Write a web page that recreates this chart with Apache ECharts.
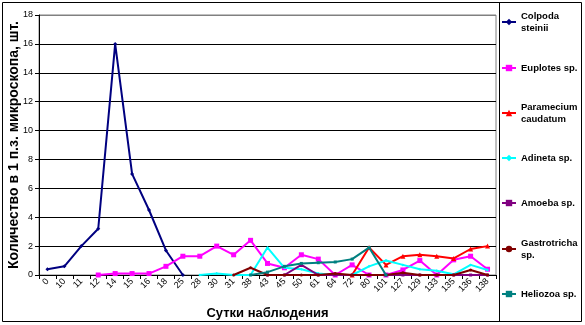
<!DOCTYPE html>
<html>
<head>
<meta charset="utf-8">
<script src="https://cdn.jsdelivr.net/npm/echarts@6/dist/echarts.min.js"></script>
<style>
html,body{margin:0;padding:0;background:#fff;}
#chart{width:585px;height:325px;}
</style>
</head>
<body>
<div id="chart"></div>
<script>
const categories = ['0','10','11','12','14','15','16','18','25','28','30','31','38','43','45','50','61','64','72','80','101','127','129','133','135','136','138'];
const yTicks = { min: 0, max: 18, interval: 2 };
const N = null;
const colpoda      = [0.4,0.6,2.0,3.2,16,7,4.5,1.7,0,N,N,N,N,N,N,N,N,N,N,N,N,N,N,N,N,N,N];
const euplotes     = [N,N,N,0,0.1,0.1,0.1,0.6,1.3,1.3,2.0,1.4,2.4,0.8,0.5,1.4,1.1,0,0.7,0,0,0.35,1.0,0,1.05,1.3,0.4];
const paramecium   = [N,N,N,N,N,N,N,N,N,N,N,N,N,N,N,N,N,N,0,1.9,0.7,1.3,1.4,1.3,1.15,1.8,2.0];
const adineta      = [N,N,N,N,N,N,N,N,N,0,0.1,0,0,1.9,0.5,0.4,0.1,0,0,0.6,1.0,0.7,0.4,0.3,0.05,0.7,0.35];
const amoeba       = [N,N,N,N,N,N,N,N,N,N,N,N,N,0,0,0.7,0,0,0,0,0,0,0,0,0,0,0];
const gastrotricha = [N,N,N,N,N,N,N,N,N,N,N,0,0.5,0,0,0,0,0.1,0,0,0,0.15,0,0,0,0.35,0];
const heliozoa     = [N,N,N,N,N,N,N,N,N,N,N,N,0,0.2,0.6,0.8,0.85,0.9,1.1,1.9,0,N,N,N,N,N,N];

const seriesNames = ['Colpoda steinii','Euplotes sp.','Paramecium caudatum','Adineta sp.','Amoeba sp.','Gastrotricha sp.','Heliozoa sp.'];
const legendLabels = ['Colpoda\nsteinii','Euplotes sp.','Paramecium\ncaudatum','Adineta sp.','Amoeba sp.','Gastrotricha\nsp.','Heliozoa sp.'];
const seriesData = [colpoda, euplotes, paramecium, adineta, amoeba, gastrotricha, heliozoa];
const colors = ['#000080','#FF00FF','#FF0000','#00FFFF','#800080','#800000','#008080'];
const symbols = ['diamond','rect','triangle','diamond','rect','circle','rect'];
const symbolSizes = [4,5,5,3,3,3,3];
const legendFirstLine = [21,67,112,157,202,248,293];

const FONT = '"Liberation Sans", Arial, sans-serif';

const chart = echarts.init(document.getElementById('chart'), null, {renderer:'canvas'});

const legends = seriesNames.map((name, i) => {
  const twoLine = legendLabels[i].indexOf('\n') >= 0;
  return {
    data: [name],
    orient: 'vertical',
    left: 501,
    top: legendFirstLine[i] - (twoLine ? 21 : 5),
    padding: 0,
    itemWidth: 14,
    itemHeight: 8,
    selectedMode: false,
    formatter: () => legendLabels[i],
    textStyle: {
      fontFamily: FONT, fontSize: 9.5, fontWeight: 'bold', color: '#000',
      lineHeight: 12,
      padding: twoLine ? [20,0,0,0] : 0
    }
  };
});

const splitColors = [];
for (let v = yTicks.min; v <= yTicks.max; v += yTicks.interval) splitColors.push(v === yTicks.max ? '#808080' : '#000000');

const option = {
  backgroundColor: '#fff',
  animation: false,
  color: colors,
  grid: { left: 39, top: 15, right: 89, bottom: 50, outerBoundsMode: 'none', containLabel: false, show: true, borderColor: '#808080', borderWidth: 1, backgroundColor: 'transparent' },
  legend: legends,
  xAxis: {
    type: 'category',
    data: categories,
    boundaryGap: true,
    name: 'Сутки наблюдения',
    nameLocation: 'middle',
    nameGap: 32,
    nameTextStyle: { fontFamily: FONT, fontSize: 13, fontWeight: 'bold', color: '#000' },
    axisLine: { show: true, lineStyle: { color: '#000', width: 1 } },
    axisTick: { show: true, length: 4, interval: 0, lineStyle: { color: '#000' } },
    axisLabel: { interval: 0, rotate: 45, fontFamily: FONT, fontSize: 9, color: '#000', margin: 5 },
    splitLine: { show: false }
  },
  yAxis: {
    type: 'value',
    min: yTicks.min, max: yTicks.max, interval: yTicks.interval,
    name: 'Количество в 1 п.з. микроскопа, шт.',
    nameLocation: 'middle',
    nameRotate: 90,
    nameGap: 18,
    nameMoveOverlap: false,
    nameTextStyle: { fontFamily: FONT, fontSize: 14, fontWeight: 'bold', color: '#000' },
    axisLine: { show: true, lineStyle: { color: '#000', width: 1 } },
    axisTick: { show: true, length: 4, lineStyle: { color: '#000' } },
    axisLabel: { fontFamily: FONT, fontSize: 9, color: '#000', margin: 6 },
    splitLine: { show: true, lineStyle: { color: splitColors, width: 1 } }
  },
  series: seriesNames.map((name, i) => ({
    name: name,
    type: 'line',
    data: seriesData[i],
    symbol: symbols[i],
    symbolSize: symbolSizes[i],
    showSymbol: true,
    connectNulls: false,
    lineStyle: { color: colors[i], width: 2 },
    itemStyle: { color: colors[i] },
    z: 2 + i
  })),
  graphic: [
    { type: 'rect', shape: { x: 2.5, y: 2.5, width: 579, height: 319 }, style: { fill: 'none', stroke: '#000', lineWidth: 1 }, silent: true },
    { type: 'line', shape: { x1: 499.5, y1: 2.5, x2: 499.5, y2: 321.5 }, style: { stroke: '#000', lineWidth: 1 }, silent: true }
  ]
};
chart.setOption(option);
</script>
</body>
</html>
